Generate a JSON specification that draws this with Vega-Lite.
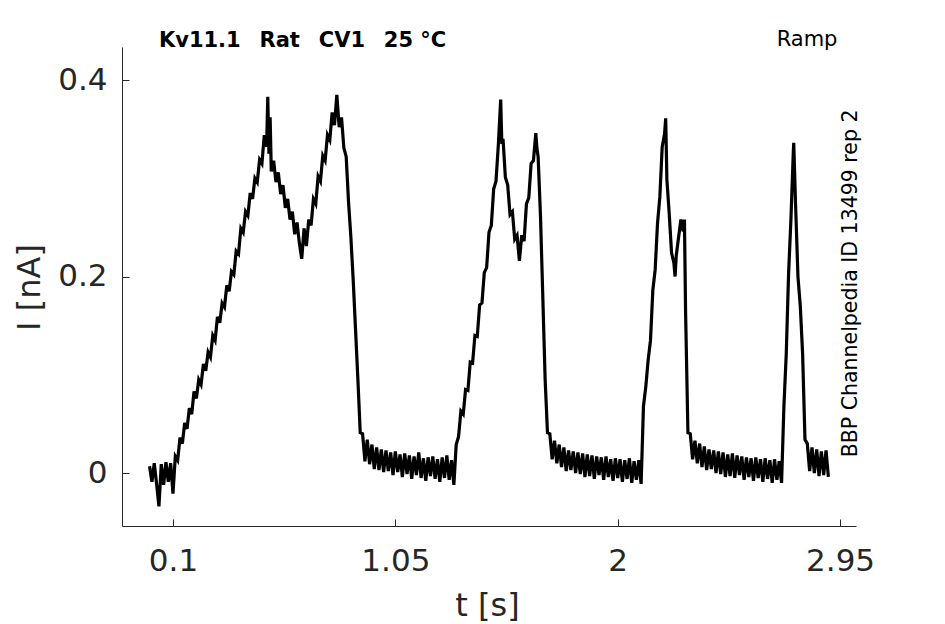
{
  "$schema": "https://vega.github.io/schema/vega-lite/v6.json",
  "width": 734,
  "height": 479,
  "autosize": "none",
  "padding": {"left": 122, "top": 47, "right": 89, "bottom": 98},
  "background": "white",
  "config": {
    "font": "DejaVu Sans",
    "view": {"stroke": null},
    "axis": {
      "grid": false,
      "domainColor": "#262626",
      "domainWidth": 1,
      "tickColor": "#262626",
      "tickWidth": 1,
      "tickSize": -7,
      "labelColor": "#262626",
      "labelFont": "DejaVu Sans",
      "labelFontSize": 31,
      "titleColor": "#262626",
      "titleFont": "DejaVu Sans",
      "titleFontSize": 32,
      "titleFontWeight": "normal"
    }
  },
  "datasets": {
    "trace": [
      {"t":0.00,"i":0.007},{"t":0.01,"i":-0.009},{"t":0.02,"i":0.010},{"t":0.03,"i":-0.011},{"t":0.04,"i":-0.034},
      {"t":0.05,"i":0.009},{"t":0.06,"i":-0.012},{"t":0.07,"i":0.011},{"t":0.08,"i":-0.009},{"t":0.09,"i":0.010},
      {"t":0.10,"i":-0.021},{"t":0.11,"i":0.017},{"t":0.12,"i":0.013},{"t":0.13,"i":0.036},{"t":0.14,"i":0.030},
      {"t":0.15,"i":0.051},{"t":0.16,"i":0.045},{"t":0.17,"i":0.066},{"t":0.18,"i":0.060},{"t":0.19,"i":0.083},
      {"t":0.20,"i":0.076},{"t":0.21,"i":0.095},{"t":0.22,"i":0.090},{"t":0.23,"i":0.111},{"t":0.24,"i":0.104},
      {"t":0.25,"i":0.123},{"t":0.26,"i":0.118},{"t":0.27,"i":0.140},{"t":0.28,"i":0.135},{"t":0.29,"i":0.159},
      {"t":0.30,"i":0.153},{"t":0.31,"i":0.173},{"t":0.32,"i":0.169},{"t":0.33,"i":0.191},{"t":0.34,"i":0.185},
      {"t":0.35,"i":0.205},{"t":0.36,"i":0.202},{"t":0.37,"i":0.226},{"t":0.38,"i":0.223},{"t":0.39,"i":0.249},
      {"t":0.40,"i":0.245},{"t":0.41,"i":0.266},{"t":0.42,"i":0.262},{"t":0.43,"i":0.285},{"t":0.44,"i":0.279},
      {"t":0.45,"i":0.300},{"t":0.46,"i":0.296},{"t":0.47,"i":0.319},{"t":0.48,"i":0.315},{"t":0.49,"i":0.344},
      {"t":0.50,"i":0.332},{"t":0.505,"i":0.383},{"t":0.51,"i":0.325},{"t":0.515,"i":0.362},{"t":0.52,"i":0.307},
      {"t":0.53,"i":0.318},{"t":0.54,"i":0.296},{"t":0.55,"i":0.306},{"t":0.56,"i":0.284},{"t":0.57,"i":0.293},
      {"t":0.58,"i":0.270},{"t":0.59,"i":0.279},{"t":0.60,"i":0.258},{"t":0.61,"i":0.266},{"t":0.62,"i":0.243},
      {"t":0.63,"i":0.255},{"t":0.64,"i":0.234},{"t":0.65,"i":0.218},{"t":0.66,"i":0.249},{"t":0.67,"i":0.231},
      {"t":0.68,"i":0.258},{"t":0.69,"i":0.252},{"t":0.70,"i":0.279},{"t":0.71,"i":0.274},{"t":0.72,"i":0.302},
      {"t":0.73,"i":0.297},{"t":0.74,"i":0.323},{"t":0.75,"i":0.318},{"t":0.76,"i":0.344},{"t":0.77,"i":0.339},
      {"t":0.78,"i":0.367},{"t":0.79,"i":0.354},{"t":0.80,"i":0.385},{"t":0.81,"i":0.352},{"t":0.82,"i":0.362},
      {"t":0.83,"i":0.331},{"t":0.84,"i":0.322},{"t":0.85,"i":0.276},{"t":0.86,"i":0.240},{"t":0.87,"i":0.196},
      {"t":0.88,"i":0.146},{"t":0.89,"i":0.095},{"t":0.90,"i":0.041},{"t":0.91,"i":0.040},{"t":0.92,"i":0.012},
      {"t":0.93,"i":0.034},{"t":0.94,"i":0.009},{"t":0.95,"i":0.029},{"t":0.96,"i":0.004},{"t":0.97,"i":0.026},
      {"t":0.98,"i":0.003},{"t":0.99,"i":0.024},{"t":1.00,"i":0.001},{"t":1.01,"i":0.023},{"t":1.02,"i":0.002},
      {"t":1.03,"i":0.021},{"t":1.04,"i":-0.002},{"t":1.05,"i":0.022},{"t":1.06,"i":0.001},{"t":1.07,"i":0.019},
      {"t":1.08,"i":-0.004},{"t":1.09,"i":0.020},{"t":1.10,"i":-0.001},{"t":1.11,"i":0.018},{"t":1.12,"i":-0.006},
      {"t":1.13,"i":0.017},{"t":1.14,"i":-0.002},{"t":1.15,"i":0.021},{"t":1.16,"i":-0.005},{"t":1.17,"i":0.015},
      {"t":1.18,"i":-0.008},{"t":1.19,"i":0.016},{"t":1.20,"i":-0.003},{"t":1.21,"i":0.017},{"t":1.22,"i":-0.006},
      {"t":1.23,"i":0.014},{"t":1.24,"i":-0.009},{"t":1.25,"i":0.016},{"t":1.26,"i":-0.005},{"t":1.27,"i":0.018},
      {"t":1.28,"i":-0.007},{"t":1.29,"i":0.013},{"t":1.30,"i":-0.012},{"t":1.31,"i":0.029},{"t":1.32,"i":0.037},
      {"t":1.33,"i":0.063},{"t":1.34,"i":0.060},{"t":1.35,"i":0.085},{"t":1.36,"i":0.084},{"t":1.37,"i":0.113},
      {"t":1.38,"i":0.112},{"t":1.39,"i":0.140},{"t":1.40,"i":0.139},{"t":1.41,"i":0.171},{"t":1.42,"i":0.173},
      {"t":1.43,"i":0.204},{"t":1.44,"i":0.209},{"t":1.45,"i":0.245},{"t":1.46,"i":0.252},{"t":1.47,"i":0.289},
      {"t":1.48,"i":0.297},{"t":1.49,"i":0.334},{"t":1.50,"i":0.380},{"t":1.505,"i":0.335},{"t":1.51,"i":0.340},
      {"t":1.52,"i":0.301},{"t":1.53,"i":0.293},{"t":1.54,"i":0.263},{"t":1.55,"i":0.266},{"t":1.56,"i":0.238},
      {"t":1.57,"i":0.242},{"t":1.58,"i":0.216},{"t":1.59,"i":0.242},{"t":1.60,"i":0.236},{"t":1.61,"i":0.274},
      {"t":1.62,"i":0.280},{"t":1.63,"i":0.315},{"t":1.64,"i":0.318},{"t":1.65,"i":0.346},{"t":1.655,"i":0.330},
      {"t":1.66,"i":0.322},{"t":1.67,"i":0.262},{"t":1.68,"i":0.179},{"t":1.69,"i":0.095},{"t":1.70,"i":0.041},
      {"t":1.71,"i":0.040},{"t":1.72,"i":0.014},{"t":1.73,"i":0.033},{"t":1.74,"i":0.010},{"t":1.75,"i":0.029},
      {"t":1.76,"i":0.006},{"t":1.77,"i":0.026},{"t":1.78,"i":0.002},{"t":1.79,"i":0.023},{"t":1.80,"i":0.003},
      {"t":1.81,"i":0.022},{"t":1.82,"i":0.000},{"t":1.83,"i":0.021},{"t":1.84,"i":-0.001},{"t":1.85,"i":0.020},
      {"t":1.86,"i":-0.004},{"t":1.87,"i":0.019},{"t":1.88,"i":-0.003},{"t":1.89,"i":0.018},{"t":1.90,"i":-0.006},
      {"t":1.91,"i":0.017},{"t":1.92,"i":-0.002},{"t":1.93,"i":0.016},{"t":1.94,"i":-0.007},{"t":1.95,"i":0.017},
      {"t":1.96,"i":-0.004},{"t":1.97,"i":0.014},{"t":1.98,"i":-0.008},{"t":1.99,"i":0.015},{"t":2.00,"i":-0.005},
      {"t":2.01,"i":0.014},{"t":2.02,"i":-0.009},{"t":2.03,"i":0.013},{"t":2.04,"i":-0.006},{"t":2.05,"i":0.015},
      {"t":2.06,"i":-0.010},{"t":2.07,"i":0.012},{"t":2.08,"i":-0.007},{"t":2.09,"i":0.013},{"t":2.10,"i":-0.011},
      {"t":2.11,"i":0.068},{"t":2.12,"i":0.088},{"t":2.13,"i":0.115},{"t":2.14,"i":0.135},{"t":2.15,"i":0.186},
      {"t":2.16,"i":0.207},{"t":2.17,"i":0.254},{"t":2.18,"i":0.281},{"t":2.19,"i":0.332},{"t":2.20,"i":0.345},
      {"t":2.205,"i":0.361},{"t":2.21,"i":0.299},{"t":2.22,"i":0.264},{"t":2.23,"i":0.224},{"t":2.24,"i":0.214},
      {"t":2.245,"i":0.200},{"t":2.25,"i":0.221},{"t":2.26,"i":0.240},{"t":2.27,"i":0.258},{"t":2.28,"i":0.246},
      {"t":2.285,"i":0.258},{"t":2.29,"i":0.163},{"t":2.30,"i":0.041},{"t":2.31,"i":0.040},{"t":2.32,"i":0.014},
      {"t":2.33,"i":0.033},{"t":2.34,"i":0.010},{"t":2.35,"i":0.030},{"t":2.36,"i":0.006},{"t":2.37,"i":0.027},
      {"t":2.38,"i":0.003},{"t":2.39,"i":0.024},{"t":2.40,"i":0.004},{"t":2.41,"i":0.023},{"t":2.42,"i":0.000},
      {"t":2.43,"i":0.022},{"t":2.44,"i":-0.001},{"t":2.45,"i":0.021},{"t":2.46,"i":-0.004},{"t":2.47,"i":0.019},
      {"t":2.48,"i":-0.003},{"t":2.49,"i":0.020},{"t":2.50,"i":-0.005},{"t":2.51,"i":0.018},{"t":2.52,"i":-0.002},
      {"t":2.53,"i":0.017},{"t":2.54,"i":-0.007},{"t":2.55,"i":0.016},{"t":2.56,"i":-0.004},{"t":2.57,"i":0.015},
      {"t":2.58,"i":-0.008},{"t":2.59,"i":0.016},{"t":2.60,"i":-0.005},{"t":2.61,"i":0.014},{"t":2.62,"i":-0.009},
      {"t":2.63,"i":0.015},{"t":2.64,"i":-0.006},{"t":2.65,"i":0.013},{"t":2.66,"i":-0.010},{"t":2.67,"i":0.014},
      {"t":2.68,"i":-0.007},{"t":2.69,"i":0.012},{"t":2.70,"i":-0.010},{"t":2.71,"i":0.068},{"t":2.72,"i":0.121},
      {"t":2.73,"i":0.203},{"t":2.74,"i":0.258},{"t":2.75,"i":0.326},{"t":2.752,"i":0.336},{"t":2.76,"i":0.272},
      {"t":2.77,"i":0.200},{"t":2.78,"i":0.170},{"t":2.79,"i":0.121},{"t":2.80,"i":0.034},{"t":2.81,"i":0.030},
      {"t":2.82,"i":0.002},{"t":2.83,"i":0.026},{"t":2.84,"i":0.000},{"t":2.85,"i":0.024},{"t":2.86,"i":-0.003},
      {"t":2.87,"i":0.022},{"t":2.88,"i":-0.002},{"t":2.89,"i":0.023},{"t":2.90,"i":-0.004}
    ]
  },
  "layer": [
    {
      "data": {"name": "trace"},
      "mark": {"type": "line", "color": "black", "strokeWidth": 3.2, "clip": true},
      "encoding": {
        "x": {
          "field": "t",
          "type": "quantitative",
          "scale": {"domain": [-0.1178, 3.018], "nice": false, "zero": false},
          "axis": {
            "values": [0.1, 1.05, 2, 2.95],
            "labelExpr": "'' + datum.value",
            "labelPadding": 27,
            "title": "t [s]",
            "titleX": 365,
            "titleY": 89,
            "titleAlign": "center",
            "titleBaseline": "alphabetic"
          }
        },
        "y": {
          "field": "i",
          "type": "quantitative",
          "scale": {"domain": [-0.0539, 0.4336], "nice": false, "zero": false},
          "axis": {
            "values": [0, 0.2, 0.4],
            "labelExpr": "'' + datum.value",
            "labelPadding": 22,
            "title": "I [nA]",
            "titleX": -83,
            "titleY": 240,
            "titleAlign": "center",
            "titleBaseline": "alphabetic",
            "titleAngle": 270
          }
        }
      }
    },
    {
      "data": {"values": [{}]},
      "mark": {"type": "text", "font": "DejaVu Sans", "fontSize": 21, "fontWeight": "bold", "align": "left", "baseline": "alphabetic", "color": "black"},
      "encoding": {
        "x": {"datum": 0.040, "type": "quantitative"},
        "y": {"datum": 0.4336, "type": "quantitative"},
        "text": {"value": "Kv11.1\u00a0\u00a0\u2009Rat\u00a0\u00a0\u2009CV1\u00a0\u00a0\u200925\u00a0°C"}
      }
    },
    {
      "data": {"values": [{}]},
      "mark": {"type": "text", "font": "DejaVu Sans", "fontSize": 21, "align": "left", "baseline": "alphabetic", "color": "black"},
      "encoding": {
        "x": {"datum": 2.679, "type": "quantitative"},
        "y": {"datum": 0.4346, "type": "quantitative"},
        "text": {"value": "Ramp"}
      }
    },
    {
      "data": {"values": [{}]},
      "mark": {"type": "text", "font": "DejaVu Sans", "fontSize": 20.5, "angle": 270, "align": "center", "baseline": "alphabetic", "color": "black"},
      "encoding": {
        "x": {"datum": 3.0205, "type": "quantitative"},
        "y": {"datum": 0.193, "type": "quantitative"},
        "text": {"value": "BBP Channelpedia ID 13499 rep 2"}
      }
    }
  ]
}
